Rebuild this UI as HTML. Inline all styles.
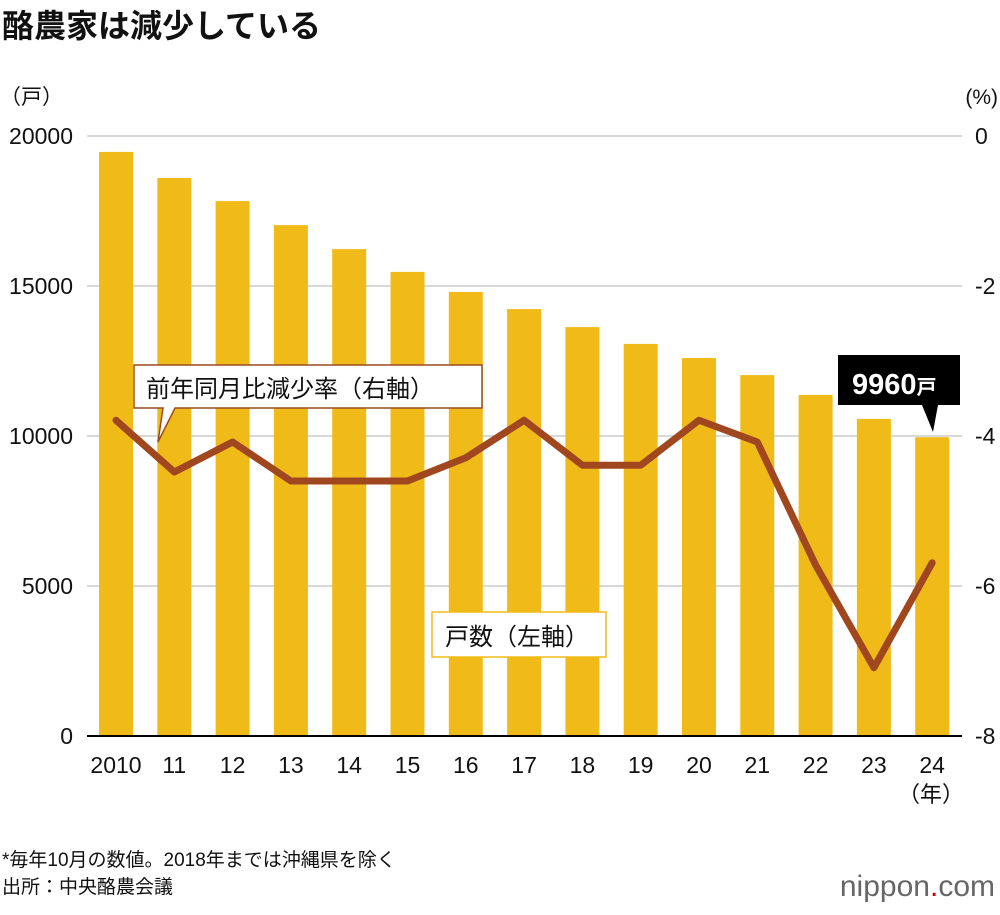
<!DOCTYPE html>
<html><head><meta charset="utf-8"><style>
body{margin:0;background:#fff;font-family:"Liberation Sans","Noto Sans CJK JP",sans-serif;}
svg text{font-family:"Liberation Sans","Noto Sans CJK JP",sans-serif;}
</style></head><body>
<svg id="c" width="1000" height="910" viewBox="0 0 1000 910" xmlns="http://www.w3.org/2000/svg">
<text x="2" y="37" font-size="32" font-weight="bold" fill="#111">酪農家は減少している</text>
<text x="0" y="104" font-size="21" fill="#111">（戸）</text>
<text x="998" y="104" font-size="21" fill="#111" text-anchor="end">(%)</text>
<g id="grid"></g><g id="bars"></g><g id="line"></g><g id="labels"></g>
<text x="931" y="802" font-size="22" fill="#111" text-anchor="middle">（年）</text>
<g>
<path d="M134,365 H482 V408 H175 L158,442 L163,408 H134 Z" fill="#fff" stroke="#9a4a22" stroke-width="1.5"/>
<text x="146" y="397" font-size="24" fill="#111">前年同月比減少率（右軸）</text></g>
<g>
<rect x="432" y="612" width="174" height="45" fill="#fff" stroke="#f0bb18" stroke-width="1.5"/>
<text x="445" y="645" font-size="24" fill="#111">戸数（左軸）</text></g>
<g>
<path d="M838,355 H960 V405 H938 L933,432 L922,405 H838 Z" fill="#000"/>
<text x="852" y="394" font-size="29" font-weight="bold" fill="#fff">9960<tspan font-size="20">戸</tspan></text></g>
<text x="2" y="866" font-size="19" fill="#111">*毎年10月の数値。2018年までは沖縄県を除く</text>
<text x="2" y="893" font-size="19" fill="#111">出所：中央酪農会議</text>
<text x="995" y="896" font-size="30" fill="#666" text-anchor="end">nippon<tspan fill="#c00">.</tspan>com</text>
</svg>
<script>
const years=["2010","11","12","13","14","15","16","17","18","19","20","21","22","23","24"];
const households=[19470,18600,17830,17030,16230,15470,14800,14230,13630,13070,12600,12030,11370,10570,9960];
const rates=[-3.79,-4.48,-4.08,-4.6,-4.6,-4.6,-4.29,-3.79,-4.39,-4.39,-3.79,-4.08,-5.72,-7.09,-5.69];
const leftTicks=[0,5000,10000,15000,20000];
const rightTicks=[0,-2,-4,-6,-8];
const NS="http://www.w3.org/2000/svg";
const yL=v=>736-v*0.03, yR=v=>136-v*75, xC=i=>116+i*58.3;
function mk(t,a,p){const e=document.createElementNS(NS,t);for(const k in a)e.setAttribute(k,a[k]);p.appendChild(e);return e;}
const g=document.getElementById('grid'),b=document.getElementById('bars'),l=document.getElementById('line'),lb=document.getElementById('labels');
leftTicks.forEach(v=>{if(v>0){const ln=mk('line',{x1:87,x2:962,y1:yL(v),y2:yL(v),stroke:'#ccc','stroke-width':1.5},g);

}
const t=mk('text',{x:73,y:yL(v)+8,'font-size':23,fill:'#111','text-anchor':'end'},lb);t.textContent=v;

});
rightTicks.forEach(v=>{const t=mk('text',{x:975,y:yR(v)+8,'font-size':23,fill:'#111'},lb);t.textContent=v;

});
households.forEach((v,i)=>{const r=mk('rect',{x:xC(i)-17,y:yL(v),width:34,height:736-yL(v),fill:'#f0bb18'},b);


const t=mk('text',{x:xC(i),y:773,'font-size':23,fill:'#111','text-anchor':'middle'},lb);t.textContent=years[i];

});
const base=mk('line',{x1:87,x2:962,y1:736,y2:736,stroke:'#000','stroke-width':2},b);


const pl=mk('polyline',{points:rates.map((v,i)=>xC(i)+','+yR(v)).join(' '),fill:'none',stroke:'#a0471f','stroke-width':7,'stroke-linejoin':'round','stroke-linecap':'round'},l);


</script>
</body></html>
